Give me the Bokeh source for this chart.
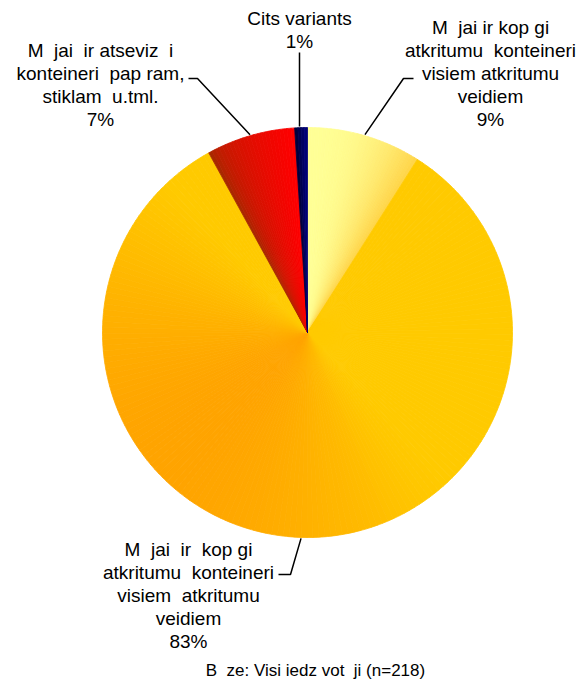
import numpy as np
from bokeh.plotting import figure
from bokeh.models import Range1d, ColumnDataSource
from bokeh.embed import file_html
from bokeh.resources import INLINE
from bokeh.core.properties import value

# ---------------- data ----------------
categories = [
    ["M  jai ir kop gi", "atkritumu  konteineri", "visiem atkritumu", "veidiem"],
    ["M  jai  ir  kop gi", "atkritumu  konteineri", "visiem  atkritumu", "veidiem"],
    ["M  jai  ir atseviz  i", "konteineri  pap ram,", "stiklam  u.tml."],
    ["Cits variants"],
]
values = [9, 83, 7, 1]
footer = "B  ze: Visi iedz vot  ji (n=218)"

# ---------------- layout / style ----------------
W, H = 579, 685
FONT = "Liberation Sans"
LINE = 23

def X(px):
    return px

def Y(py):
    return H - py

def keep_spaces(s):
    return s.replace("  ", " \u00a0")

CX, CY, R = X(307), Y(332), 205

# first-line centre of each label block (pixel coords in the page)
label_pos = [(490, 27), (188, 549), (100, 50), (299, 18)]
# label-side points of the leader lines (pixel coords)
leader_anchor = [
    [(413, 78), (403, 78)],
    [(278, 574), (290, 574)],
    [(188, 78), (197, 78)],
    [(299, 52)],
]

def lerp(c0, c1, t):
    t = min(max(t, 0.0), 1.0)
    return "#%02x%02x%02x" % tuple(int(round(a + (b - a) * t)) for a, b in zip(c0, c1))

def color_for(i, t, theta):
    if i == 0:
        return lerp((255, 255, 150), (255, 212, 72), t ** 2.2)
    if i == 1:
        s = max(0.0, np.cos(theta - np.radians(222)))
        return lerp((255, 202, 0), (255, 164, 0), s ** 1.1)
    if i == 2:
        return lerp((150, 48, 0), (255, 0, 0), t ** 0.45)
    return lerp((0, 0, 50), (0, 0, 128), t)

p = figure(width=W, height=H, output_backend="svg", toolbar_location=None,
           x_range=Range1d(0, W), y_range=Range1d(0, H),
           x_axis_location=None, y_axis_location=None,
           min_border=0, outline_line_color=None)
p.grid.visible = False
p.background_fill_color = "white"
p.border_fill_color = "white"

total = float(sum(values))
frac = np.array(values, dtype=float) / total
cum = np.concatenate([[0.0], np.cumsum(frac)])

n_sub = [30, 180, 24, 4]
starts, ends, cols = [], [], []
for i in range(len(values)):
    n = n_sub[i]
    for k in range(n):
        c0 = cum[i] + frac[i] * k / n
        c1 = cum[i] + frac[i] * (k + 1) / n
        a0 = np.pi / 2 - 2 * np.pi * c0
        a1 = np.pi / 2 - 2 * np.pi * c1
        t = (k + 0.5) / n
        cols.append(color_for(i, t, (a0 + a1) / 2))
        starts.append(a0)
        ends.append(a1)

src = ColumnDataSource(dict(x=[CX] * len(starts), y=[CY] * len(starts),
                            start=starts, end=ends, color=cols))
p.wedge(x="x", y="y", radius=R, start_angle="start", end_angle="end",
        direction="clock", fill_color="color", line_color="color",
        line_width=0.8, source=src)

# leader lines
for i in range(len(values)):
    amid = np.pi / 2 - 2 * np.pi * (cum[i] + frac[i] / 2)
    ex = CX + (R + 1) * np.cos(amid)
    ey = CY + (R + 1) * np.sin(amid)
    xs = [X(px) for px, py in leader_anchor[i]] + [ex]
    ys = [Y(py) for px, py in leader_anchor[i]] + [ey]
    if i == 3:
        xs = [xs[0], xs[0]]
    p.line(xs, ys, line_color="black", line_width=1.5)

# labels (one text item per line)
lx, ly, lt = [], [], []
for (px, py), lines, v in zip(label_pos, categories, values):
    for j, s in enumerate(lines + [f"{v}%"]):
        lx.append(X(px))
        ly.append(Y(py + j * LINE))
        lt.append(keep_spaces(s))
lsrc = ColumnDataSource(dict(x=lx, y=ly, text=lt))
p.text(x="x", y="y", text="text", source=lsrc, text_align="center",
       text_baseline="middle", text_font=value(FONT), text_font_size="19px",
       text_color="black")

p.text(x=[X(315)], y=[Y(670)], text=[keep_spaces(footer)], text_align="center",
       text_baseline="middle", text_font=value(FONT), text_font_size="17px",
       text_color="black")

open("out.html", "w").write(file_html(p, INLINE))
